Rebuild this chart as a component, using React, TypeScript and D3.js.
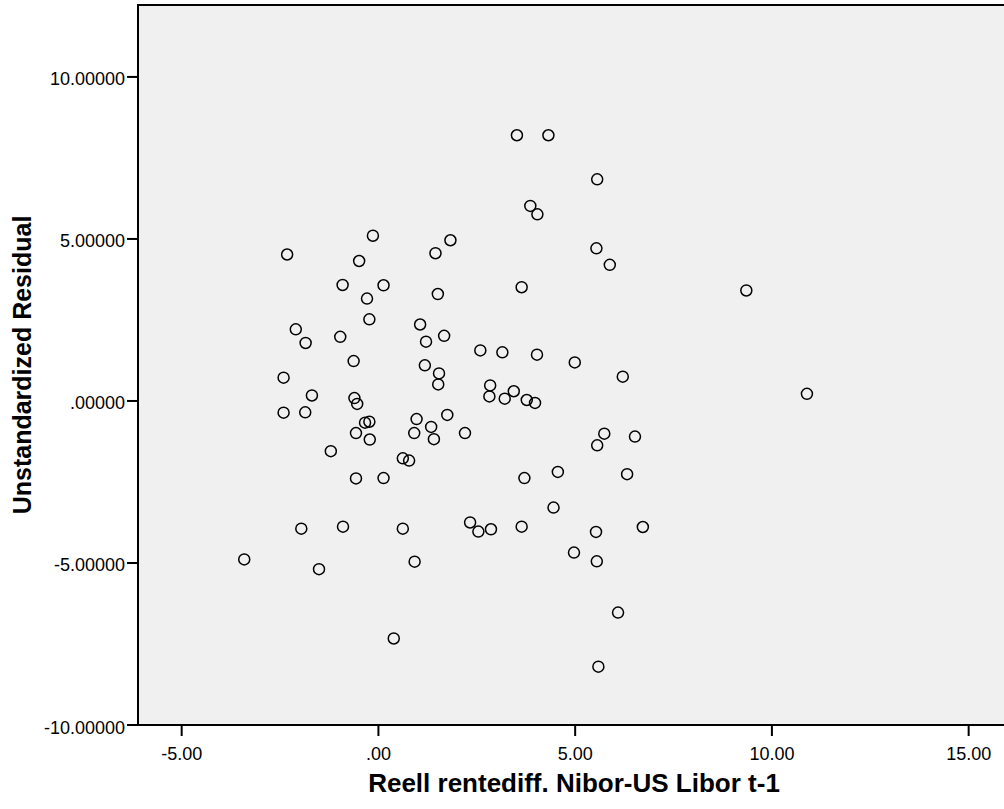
import React, { useEffect, useRef } from 'react';
import * as d3 from 'd3';

// values
const xValues = [
  -3.41, -2.32, -2.41, -2.41, -2.10, -1.85, -1.69, -1.86, -1.21, -1.96,
  -0.90, -1.51, -0.97, -0.91, -0.49, -0.14, 0.13, -0.29, -0.23, -0.63,
  -0.61, -0.54, -0.34, -0.23, -0.57, -0.22, -0.57, 0.13, 0.62, 0.78,
  1.45, 1.83, 1.51, 1.06, 1.67, 1.21, 1.18, 1.54, 1.52, 0.97,
  1.75, 1.34, 0.91, 1.41, 2.20, 2.59, 3.15, 2.84, 2.82, 3.21,
  3.44, 3.77, 3.64, 3.86, 3.71, 0.62, 2.33, 2.54, 2.86, 3.64,
  0.92, 0.39, 3.52, 4.32, 5.56, 4.04, 5.54, 5.88, 4.03, 4.99,
  6.21, 3.98, 5.74, 5.56, 6.52, 4.56, 6.32, 4.45, 5.53, 6.72,
  4.97, 5.55, 6.09, 5.59, 9.35, 10.89,
];
const residuals = [
  -4.89, 4.52, 0.72, -0.36, 2.21, 1.79, 0.17, -0.35, -1.55, -3.94,
  -3.88, -5.19, 1.98, 3.58, 4.32, 5.10, 3.57, 3.16, 2.52, 1.23,
  0.09, -0.09, -0.67, -0.64, -0.99, -1.19, -2.39, -2.38, -1.77, -1.84,
  4.56, 4.96, 3.30, 2.36, 2.01, 1.83, 1.10, 0.85, 0.51, -0.56,
  -0.43, -0.80, -0.99, -1.18, -0.99, 1.56, 1.50, 0.48, 0.14, 0.07,
  0.30, 0.03, 3.51, 6.02, -2.38, -3.94, -3.75, -4.03, -3.96, -3.88,
  -4.96, -7.33, 8.20, 8.20, 6.84, 5.76, 4.71, 4.20, 1.43, 1.19,
  0.75, -0.06, -1.01, -1.37, -1.10, -2.19, -2.26, -3.29, -4.04, -3.89,
  -4.68, -4.95, -6.53, -8.20, 3.41, 0.22,
];
const xTicks = [-5, 0, 5, 10, 15];
const yTicks = [-10, -5, 0, 5, 10];
const xTitle = 'Reell rentediff. Nibor-US Libor t-1';
const yTitle = 'Unstandardized Residual';

// SPSS style: plain hyphen, no leading zero
const spss = (digits: number) => (v: number) =>
  d3.format(`.${digits}f`)(v).replace('\u2212', '-').replace(/^(-?)0\./, '$1.');

const App = () => {
  const chartRef = useRef<HTMLDivElement>(null);
  const width = 1004;
  const height = 809;

  useEffect(() => {
    d3.select(chartRef.current).select('svg').remove();

    const left = 138, right = 1008, top = 5, bottom = 725;
    const font = '"Liberation Sans", Arial, sans-serif';

    const x = d3.scaleLinear().domain([-6.11, 16.0]).range([left, right]);
    const y = d3.scaleLinear().domain([-10, 12.22]).range([bottom, top]);

    const svg = d3
      .select(chartRef.current)
      .append('svg')
      .attr('width', width)
      .attr('height', height)
      .style('position', 'absolute')
      .style('left', 0)
      .style('top', 0)
      .style('background', '#fff');

    svg
      .append('rect')
      .attr('x', left)
      .attr('y', top)
      .attr('width', right - left)
      .attr('height', bottom - top)
      .attr('fill', '#f0f0f0')
      .attr('stroke', '#000')
      .attr('stroke-width', 2);

    // y axis ticks + labels
    const yAxis = svg.append('g').attr('font-family', font).attr('font-size', 18);
    yAxis
      .selectAll('line')
      .data(yTicks)
      .enter()
      .append('line')
      .attr('x1', left - 11)
      .attr('x2', left)
      .attr('y1', (d) => y(d))
      .attr('y2', (d) => y(d))
      .attr('stroke', '#000')
      .attr('stroke-width', 2);
    yAxis
      .selectAll('text')
      .data(yTicks)
      .enter()
      .append('text')
      .attr('x', left - 13)
      .attr('y', (d) => y(d) + 8.5)
      .attr('text-anchor', 'end')
      .attr('fill', '#000')
      .text(spss(5));

    // x axis ticks + labels
    const xAxis = svg.append('g').attr('font-family', font).attr('font-size', 18);
    xAxis
      .selectAll('line')
      .data(xTicks)
      .enter()
      .append('line')
      .attr('x1', (d) => x(d))
      .attr('x2', (d) => x(d))
      .attr('y1', bottom)
      .attr('y2', bottom + 11)
      .attr('stroke', '#000')
      .attr('stroke-width', 2);
    xAxis
      .selectAll('text')
      .data(xTicks)
      .enter()
      .append('text')
      .attr('x', (d) => x(d))
      .attr('y', 760)
      .attr('text-anchor', 'middle')
      .attr('fill', '#000')
      .text(spss(2));

    // titles
    svg
      .append('text')
      .attr('x', 574)
      .attr('y', 792)
      .attr('text-anchor', 'middle')
      .attr('font-family', font)
      .attr('font-weight', 'bold')
      .attr('font-size', 26)
      .text(xTitle);

    svg
      .append('text')
      .attr('transform', `translate(31, ${(top + bottom) / 2}) rotate(-90)`)
      .attr('text-anchor', 'middle')
      .attr('font-family', font)
      .attr('font-weight', 'bold')
      .attr('font-size', 25)
      .text(yTitle);

    // points
    svg
      .append('g')
      .selectAll('circle')
      .data(xValues.map((v, i) => [v, residuals[i]]))
      .enter()
      .append('circle')
      .attr('cx', (d) => x(d[0]))
      .attr('cy', (d) => y(d[1]))
      .attr('r', 5.5)
      .attr('fill', 'none')
      .attr('stroke', '#000')
      .attr('stroke-width', 1.5);
  }, []);

  return <div ref={chartRef}></div>;
};

export default App;
